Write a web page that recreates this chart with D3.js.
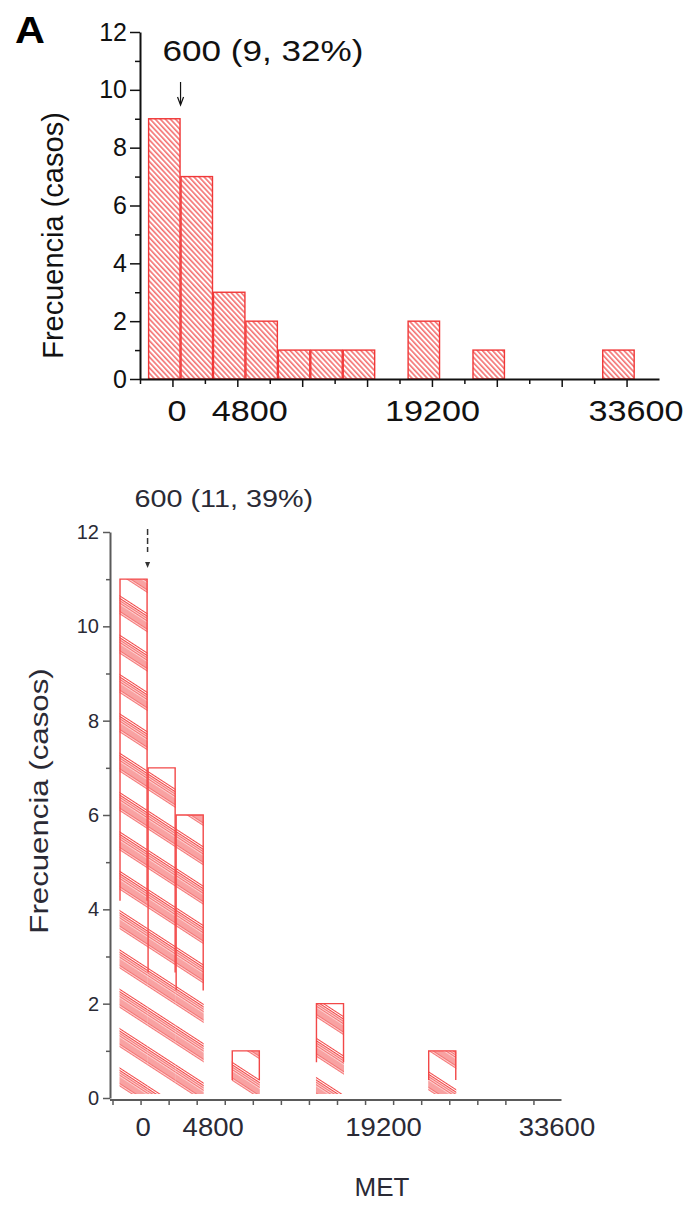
<!DOCTYPE html>
<html>
<head>
<meta charset="utf-8">
<script src="https://cdn.jsdelivr.net/npm/d3@7"></script>
<style>
  body { margin: 0; background: #fff; }
  svg { display: block; font-family: "Liberation Sans", Arial, sans-serif; }
</style>
</head>
<body>
<svg id="chart" width="699" height="1205"></svg>
<script>
// histogram bins (MET), each bin is [binEdges[i], binEdges[i+1])
var binEdges = [-1800, 600, 3000, 5400, 7800, 10200, 12600, 15000, 17400, 19800, 22200, 24600, 27000, 29400, 31800, 34200];
var countsTop = [9, 7, 3, 2, 1, 1, 1, 0, 2, 0, 1, 0, 0, 0, 1];
var countsBottom = [11, 7, 6, 0, 1, 0, 0, 2, 0, 0, 0, 1, 0, 0, 0];

var xTicks = [-2400, 0, 2400, 4800, 7200, 9600, 12000, 14400, 16800, 19200, 21600, 24000, 26400, 28800, 31200, 33600];
var xMajor = [0, 4800, 9600, 14400, 19200, 24000, 28800, 33600];
var xLabels = [0, 4800, 19200, 33600];
var yMajor = [0, 2, 4, 6, 8, 10, 12];
var yMinor = [1, 3, 5, 7, 9, 11];

var cutoff = 600;
var noteTop = "600 (9, 32%)";
var noteBottom = "600 (11, 39%)";
var yTitle = "Frecuencia (casos)";
var xTitle = "MET";
var panelLetter = "A";

var svg = d3.select("#chart");
var defs = svg.append("defs");
var red = "#f03838";

svg.append("rect").attr("width", 699).attr("height", 1205).attr("fill", "#fff");

// plain diagonal hatch for the top panel
var hTop = defs.append("pattern")
  .attr("id", "hatchTop")
  .attr("patternUnits", "userSpaceOnUse")
  .attr("width", 10).attr("height", 3.7)
  .attr("patternTransform", "rotate(47)");
hTop.append("rect").attr("width", 10).attr("height", 3.7).attr("fill", "#fff");
hTop.append("line")
  .attr("x1", 0).attr("x2", 10).attr("y1", 1).attr("y2", 1)
  .attr("stroke", red).attr("stroke-width", 1.15);

// banded hatch for the bottom panel (dense lines with white gaps)
var hBot = defs.append("pattern")
  .attr("id", "hatchBand")
  .attr("patternUnits", "userSpaceOnUse")
  .attr("width", 40).attr("height", 33)
  .attr("patternTransform", "translate(0,6) rotate(33)");
d3.range(0, 15, 2.1).forEach(function(y) {
  hBot.append("line")
    .attr("x1", 0).attr("x2", 40).attr("y1", y + 0.5).attr("y2", y + 0.5)
    .attr("stroke", "#f24646").attr("stroke-width", 1.05);
});

function stretch(sel, k) {
  sel.each(function() {
    var len = this.getComputedTextLength();
    d3.select(this).attr("textLength", len * k).attr("lengthAdjust", "spacingAndGlyphs");
  });
}

function styleAxis(g, color, width) {
  g.select(".domain").attr("stroke", color).attr("stroke-width", width);
  g.selectAll(".tick line").attr("stroke", color).attr("stroke-width", width * 0.75);
  g.attr("font-family", null).attr("font-size", null);
}

function bins(counts) {
  return counts.map(function(c, i) {
    return { x0: binEdges[i], x1: binEdges[i + 1], n: c };
  }).filter(function(d) { return d.n > 0; });
}

/* ---------- top panel ---------- */
(function() {
  var x = d3.scaleLinear().domain([-2400, 36000]).range([140, 659]);
  var y = d3.scaleLinear().domain([0, 12]).range([379, 32]);
  var g = svg.append("g");

  g.append("text")
    .attr("x", 15).attr("y", 43)
    .attr("font-size", 36).attr("font-weight", "bold")
    .text(panelLetter)
    .call(stretch, 1.15);

  g.selectAll("rect.bar")
    .data(bins(countsTop))
    .enter().append("rect")
    .attr("class", "bar")
    .attr("x", function(d) { return x(d.x0) + 0.5; })
    .attr("width", function(d) { return x(d.x1) - x(d.x0) - 1; })
    .attr("y", function(d) { return y(d.n); })
    .attr("height", function(d) { return y(0) - y(d.n); })
    .attr("fill", "url(#hatchTop)")
    .attr("stroke", red).attr("stroke-width", 1.4);

  var ya = g.append("g").attr("transform", "translate(140,0)")
    .call(d3.axisLeft(y).tickValues(yMajor).tickSizeInner(10).tickSizeOuter(0).tickPadding(3));
  styleAxis(ya, "#111", 2);
  ya.selectAll("text").attr("font-size", 25).attr("fill", "#111");

  var ym = g.append("g").attr("transform", "translate(140,0)")
    .call(d3.axisLeft(y).tickValues(yMinor).tickSize(5).tickFormat(""));
  ym.select(".domain").remove();
  ym.selectAll(".tick line").attr("stroke", "#111").attr("stroke-width", 1.5);

  var xa = g.append("g").attr("transform", "translate(0,379)")
    .call(d3.axisBottom(x).tickValues(xMajor).tickSizeInner(8).tickSizeOuter(0).tickPadding(13)
      .tickFormat(function(v) { return xLabels.indexOf(v) >= 0 ? v : ""; }));
  styleAxis(xa, "#111", 2);
  var nudgeTop = { 0: 4, 4800: 12, 19200: 0, 33600: 9 };
  xa.selectAll("text")
    .attr("font-size", 30).attr("fill", "#111")
    .attr("dx", function(v) { return nudgeTop[v] || 0; })
    .call(stretch, 1.14);

  var xm = g.append("g").attr("transform", "translate(0,379)")
    .call(d3.axisBottom(x).tickValues(xTicks.filter(function(v) { return xMajor.indexOf(v) < 0; }))
      .tickSize(5).tickFormat(""));
  xm.select(".domain").remove();
  xm.selectAll(".tick line").attr("stroke", "#111").attr("stroke-width", 1.5);

  g.append("text")
    .attr("transform", "translate(63," + ((y(0) + y(12)) / 2 + 30) + ") rotate(-90)")
    .attr("text-anchor", "middle")
    .attr("font-size", 29).attr("fill", "#111")
    .text(yTitle);

  g.append("text")
    .attr("x", x(cutoff) - 18).attr("y", 61)
    .attr("font-size", 30).attr("fill", "#111")
    .text(noteTop)
    .call(stretch, 1.17);

  g.append("line")
    .attr("x1", x(cutoff)).attr("x2", x(cutoff))
    .attr("y1", 82).attr("y2", 104)
    .attr("stroke", "#111").attr("stroke-width", 1.2);
  g.append("path")
    .attr("d", "M" + (x(cutoff) - 3) + ",97L" + x(cutoff) + ",105L" + (x(cutoff) + 3) + ",97")
    .attr("fill", "none").attr("stroke", "#111").attr("stroke-width", 1.2);
})();

/* ---------- bottom panel ---------- */
(function() {
  var x = d3.scaleLinear().domain([-2400, 36000]).range([112.5, 561.5]);
  var y = d3.scaleLinear().domain([0, 12]).range([1098, 532]);
  var g = svg.append("g");
  var axisCol = "#5a5a5a";

  var bars = g.selectAll("g.bar")
    .data(bins(countsBottom))
    .enter().append("g").attr("class", "bar");
  bars.append("rect")
    .attr("x", function(d) { return x(d.x0); })
    .attr("width", function(d) { return x(d.x1) - x(d.x0); })
    .attr("y", function(d) { return y(d.n); })
    .attr("height", function(d) { return y(0) - y(d.n) - 4; })
    .attr("fill", "url(#hatchBand)");
  // outline: top and sides only, the base is not drawn
  bars.append("path")
    .attr("d", function(d) {
      var l = x(d.x0) + 0.5, r = x(d.x1) - 0.5, t = y(d.n), b = t + (y(0) - t) * 0.62;
      return "M" + l + "," + b + "V" + t + "H" + r + "V" + b;
    })
    .attr("fill", "none").attr("stroke", "#f24848").attr("stroke-width", 1.4);

  var ya = g.append("g").attr("transform", "translate(110,0)")
    .call(d3.axisLeft(y).tickValues(yMajor).tickSizeInner(7).tickSizeOuter(0).tickPadding(4));
  styleAxis(ya, axisCol, 2);
  ya.selectAll("text").attr("font-size", 20).attr("fill", "#2a2a35");

  var ym = g.append("g").attr("transform", "translate(110,0)")
    .call(d3.axisLeft(y).tickValues(yMinor).tickSize(4).tickFormat(""));
  ym.select(".domain").remove();
  ym.selectAll(".tick line").attr("stroke", axisCol).attr("stroke-width", 1.5);

  var xa = g.append("g").attr("transform", "translate(0,1100)")
    .call(d3.axisBottom(x).tickValues(xTicks).tickSizeInner(5).tickSizeOuter(0).tickPadding(13)
      .tickFormat(function(v) { return xLabels.indexOf(v) >= 0 ? v : ""; }));
  xa.select(".domain").attr("d", "M110,0H" + x(36000));
  styleAxis(xa, axisCol, 2);
  var nudgeBot = { 0: 2, 4800: 16, 19200: 18, 33600: 23 };
  xa.selectAll("text")
    .attr("font-size", 25).attr("fill", "#2a2a35")
    .attr("dx", function(v) { return nudgeBot[v] || 0; })
    .call(stretch, 1.1);

  g.append("text")
    .attr("x", 382).attr("y", 1196)
    .attr("text-anchor", "middle")
    .attr("font-size", 26).attr("fill", "#2a2a35")
    .text(xTitle);

  g.append("text")
    .attr("transform", "translate(48,801) rotate(-90)")
    .attr("text-anchor", "middle")
    .attr("font-size", 26).attr("fill", "#2a2a35")
    .text(yTitle)
    .call(stretch, 1.2);

  g.append("text")
    .attr("x", x(cutoff) - 13).attr("y", 507)
    .attr("font-size", 23).attr("fill", "#2a2a35")
    .text(noteBottom)
    .call(stretch, 1.25);

  g.append("line")
    .attr("x1", x(cutoff)).attr("x2", x(cutoff))
    .attr("y1", 529).attr("y2", 552)
    .attr("stroke", "#333").attr("stroke-width", 1.5)
    .attr("stroke-dasharray", "6,3");
  g.append("path")
    .attr("d", "M" + (x(cutoff) - 2.5) + ",562L" + x(cutoff) + ",568L" + (x(cutoff) + 2.5) + ",562Z")
    .attr("fill", "#333");
})();
</script>
</body>
</html>
